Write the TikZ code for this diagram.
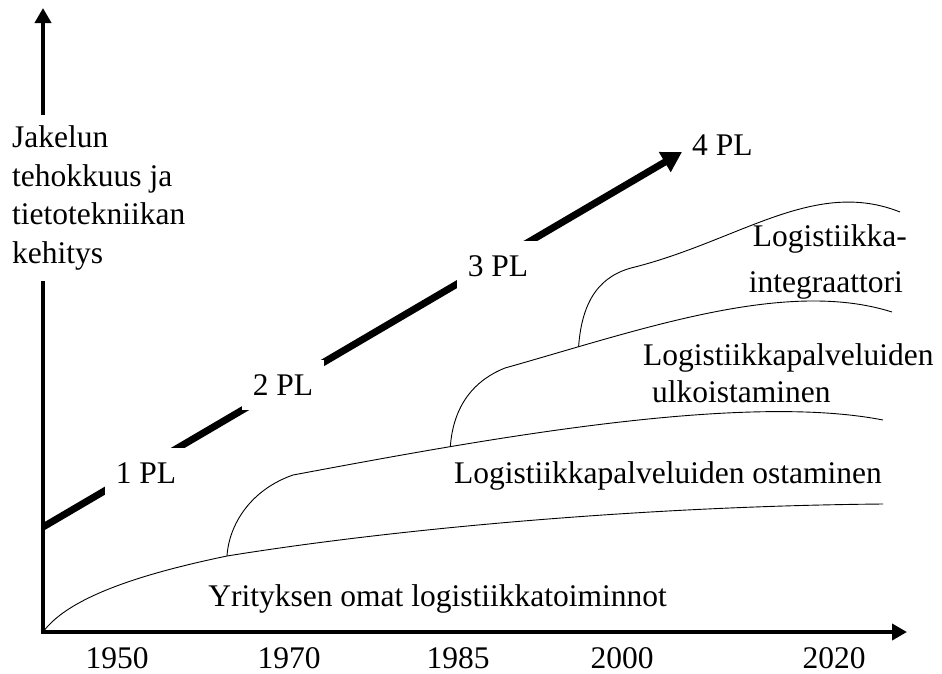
\documentclass[tikz,border=0pt]{standalone}
\usepackage{fontspec}
\setmainfont{Liberation Serif}
\usepackage{tikz}
\usetikzlibrary{arrows.meta,positioning}
\tikzset{
	axe/.style={line width=4pt,{Triangle[length=15pt,width=16pt]}-{Triangle[length=15pt,width=16pt]}},
	fleche/.style={line width=7pt,-{Triangle[length=20pt,width=22pt]}},
	courbe/.style={line width=0.9pt},
	txt/.style={font=\fontsize{31.5}{38.5}\selectfont,inner sep=0pt},
	plbox/.style={txt,fill=white,inner xsep=11pt,inner ysep=14.5pt}
}

\begin{document}
\begin{tikzpicture}[x=1pt,y=-1pt]
\useasboundingbox (0,0) rectangle (942,673);

%Axes
\coordinate (O) at (43,632);
\coordinate (Ytip) at (43,8);
\coordinate (Xtip) at (907,632);
\draw[axe] (Ytip) -- (O) -- (Xtip);

\node[txt,fill=white,align=left,anchor=north west,inner ysep=11pt] (ylab) at (12,114.5)
	{Jakelun\\tehokkuus ja\\tietotekniikan\\kehitys};

%Annees
\node[txt,anchor=base] (y1950) at (117,668) {1950};
\node[txt,anchor=base] (y1970) at (289,668) {1970};
\node[txt,anchor=base] (y1985) at (458,668) {1985};
\node[txt,anchor=base] (y2000) at (622,668) {2000};
\node[txt,anchor=base] (y2020) at (834,668) {2020};

%Fleche des PL
\coordinate (S) at (43,527);
\coordinate (E) at (682,152);
\draw[fleche] (S) -- (E);
\node[plbox,anchor=base] (pl1) at (146,483) {1 PL};
\node[plbox,anchor=base] (pl2) at (283,395) {2 PL};
\node[plbox,anchor=base] (pl3) at (498,276) {3 PL};
\node[txt,anchor=base west] (pl4) at (692,155) {4 PL};

%Courbes
\draw[courbe] (O) .. controls (70,595) and (150,572) .. (227,556) coordinate (P1)
	.. controls (400,528) and (650,506) .. (883,504);
\draw[courbe] (P1) .. controls (229,525) and (250,490) .. (293,475)
	.. controls (480,440) and (740,392) .. coordinate[pos=0.26] (P2) (883,420);
\draw[courbe] (P2) .. controls (453,410) and (470,382) .. (505,368)
	.. controls (640,330) and (785,278) .. coordinate[pos=0.18] (P3) (892,312);
\draw[courbe] (P3) .. controls (582,300) and (600,275) .. (635,267)
	.. controls (740,240) and (815,178) .. (900,212);

%Textes des courbes
\node[txt,anchor=base east] (omat) at (667,606) {Yrityksen omat logistiikkatoiminnot};
\node[txt,anchor=base east] (ostam) at (882,483) {Logistiikkapalveluiden ostaminen};
\node[txt,anchor=base west] (ulko1) at (643,365) {Logistiikkapalveluiden};
\node[txt,anchor=base west] (ulko2) at (652,402) {ulkoistaminen};
\node[txt,anchor=base east] (integ1) at (907,246) {Logistiikka-};
\node[txt,anchor=base east] (integ2) at (903,292) {integraattori};

\end{tikzpicture}
\end{document}
